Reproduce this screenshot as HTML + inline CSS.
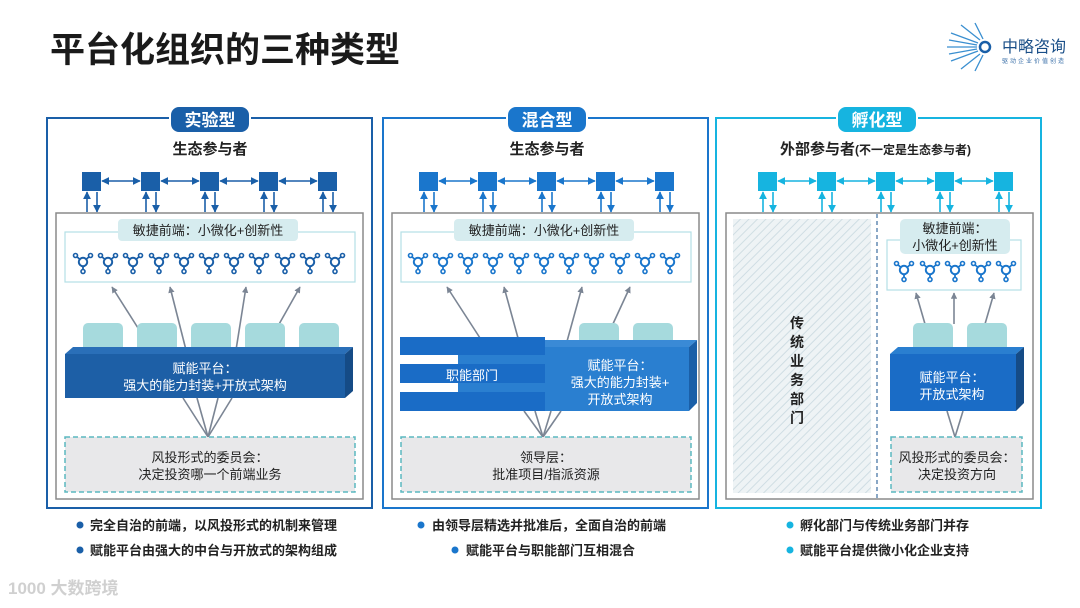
<!DOCTYPE html>
<html><head><meta charset="utf-8">
<style>
html,body{margin:0;padding:0;background:#fff;}
svg{display:block;font-family:"Liberation Sans","Noto Sans CJK SC",sans-serif;}
</style></head>
<body>
<svg width="1080" height="608" viewBox="0 0 1080 608" xmlns="http://www.w3.org/2000/svg">
<defs>
 <marker id="mb" viewBox="0 0 10 10" refX="9" refY="5" markerWidth="5" markerHeight="5" orient="auto-start-reverse"><path d="M0,0L10,5L0,10z" fill="#1a5fa8"/></marker>
 <marker id="mm" viewBox="0 0 10 10" refX="9" refY="5" markerWidth="5" markerHeight="5" orient="auto-start-reverse"><path d="M0,0L10,5L0,10z" fill="#1a76cc"/></marker>
 <marker id="mc" viewBox="0 0 10 10" refX="9" refY="5" markerWidth="5" markerHeight="5" orient="auto-start-reverse"><path d="M0,0L10,5L0,10z" fill="#16b4e0"/></marker>
 <marker id="mg" viewBox="0 0 10 10" refX="9" refY="5" markerWidth="4" markerHeight="4" orient="auto"><path d="M0,0L10,5L0,10z" fill="#7b8594"/></marker>
 <g id="ic">
  <path d="M0,0L-7,-6M0,0L7,-6M0,0L0,9" stroke-width="1.8" fill="none"/>
  <circle cx="0" cy="0" r="4.2" fill="#fff" stroke-width="2"/>
  <circle cx="-7.5" cy="-6.5" r="2" fill="#fff" stroke-width="1.6"/>
  <circle cx="7.5" cy="-6.5" r="2" fill="#fff" stroke-width="1.6"/>
  <circle cx="0" cy="9.5" r="2" fill="#fff" stroke-width="1.6"/>
 </g>
 <pattern id="hatch" width="6" height="6" patternUnits="userSpaceOnUse" patternTransform="rotate(45)">
  <rect width="6" height="6" fill="#eef3f5"/><line x1="0" y1="0" x2="0" y2="6" stroke="#cfdde3" stroke-width="2"/>
 </pattern>
</defs>

<!-- Title -->
<text x="50" y="62" font-size="35" font-weight="bold" fill="#1a1a1a">平台化组织的三种类型</text>
<!-- logo -->
<g transform="translate(985,47)">
 <g stroke="#3a8fd0" stroke-width="1.3">
  <line x1="-8" y1="0" x2="-38" y2="0"/><line x1="-7" y1="-4" x2="-34" y2="-14"/><line x1="-7" y1="4" x2="-34" y2="14"/>
  <line x1="-5" y1="-7" x2="-24" y2="-22"/><line x1="-5" y1="7" x2="-24" y2="22"/><line x1="-2" y1="-8" x2="-10" y2="-24"/><line x1="-2" y1="8" x2="-10" y2="24"/>
  <line x1="-8" y1="-2" x2="-36" y2="-7"/><line x1="-8" y1="2" x2="-36" y2="7"/>
 </g>
 <circle cx="0" cy="0" r="5" fill="none" stroke="#1a5fa8" stroke-width="2.5"/>
</g>
<text x="1002" y="52" font-size="16" fill="#1a4f88">中略咨询</text>
<text x="1002" y="63" font-size="6" fill="#3a6fa8" letter-spacing="2">驱动企业价值创造</text>

<!-- bottom-left watermark logo -->
<text x="8" y="594" font-size="17" fill="#d0d0d0" font-weight="bold">1000 大数跨境</text>

<!-- ============ PANEL 1 ============ -->
<rect x="47" y="118" width="325" height="390" fill="none" stroke="#1a5fa8" stroke-width="2"/>
<rect x="170" y="106" width="80" height="27" rx="9" fill="#1a5fa8" stroke="#fff" stroke-width="2"/>
<text x="210" y="126" font-size="17" font-weight="bold" fill="#fff" text-anchor="middle">实验型</text>
<text x="210" y="154" font-size="15" font-weight="bold" fill="#222" text-anchor="middle">生态参与者</text>
<g fill="#1a5fa8">
 <rect x="82" y="172" width="19" height="19"/><rect x="141" y="172" width="19" height="19"/><rect x="200" y="172" width="19" height="19"/><rect x="259" y="172" width="19" height="19"/><rect x="318" y="172" width="19" height="19"/>
</g>
<g stroke="#1a5fa8" stroke-width="1.6" marker-start="url(#mb)" marker-end="url(#mb)">
 <line x1="102" y1="181" x2="140" y2="181"/><line x1="161" y1="181" x2="199" y2="181"/><line x1="220" y1="181" x2="258" y2="181"/><line x1="279" y1="181" x2="317" y2="181"/>
</g>
<g stroke="#1a5fa8" stroke-width="1.6" marker-end="url(#mb)">
 <line x1="87" y1="212" x2="87" y2="192"/><line x1="97" y1="192" x2="97" y2="212"/>
 <line x1="146" y1="212" x2="146" y2="192"/><line x1="156" y1="192" x2="156" y2="212"/>
 <line x1="205" y1="212" x2="205" y2="192"/><line x1="215" y1="192" x2="215" y2="212"/>
 <line x1="264" y1="212" x2="264" y2="192"/><line x1="274" y1="192" x2="274" y2="212"/>
 <line x1="323" y1="212" x2="323" y2="192"/><line x1="333" y1="192" x2="333" y2="212"/>
</g>
<rect x="56" y="213" width="307" height="286" fill="#fff" stroke="#8a8a8a" stroke-width="1.5"/>
<rect x="65" y="232" width="290" height="50" fill="#fff" stroke="#b3e0e6" stroke-width="1.2"/>
<rect x="118" y="219" width="180" height="22" rx="4" fill="#d6ecef"/>
<text x="208" y="235" font-size="13" fill="#222" text-anchor="middle">敏捷前端：小微化+创新性</text>
<g stroke="#1a5fa8" transform="translate(0,262)">
 <use href="#ic" x="83"/><use href="#ic" x="108"/><use href="#ic" x="133"/><use href="#ic" x="159"/><use href="#ic" x="184"/><use href="#ic" x="209"/><use href="#ic" x="234"/><use href="#ic" x="259"/><use href="#ic" x="285"/><use href="#ic" x="310"/><use href="#ic" x="335"/>
</g>
<g stroke="#7b8594" stroke-width="1.6" marker-end="url(#mg)">
 <line x1="138" y1="328" x2="112" y2="287"/><line x1="186" y1="350" x2="170" y2="287"/><line x1="236" y1="350" x2="246" y2="287"/><line x1="278" y1="326" x2="300" y2="287"/>
</g>
<g fill="#a6dadd">
 <rect x="83" y="323" width="40" height="32" rx="5"/><rect x="137" y="323" width="40" height="32" rx="5"/><rect x="191" y="323" width="40" height="32" rx="5"/><rect x="245" y="323" width="40" height="32" rx="5"/><rect x="299" y="323" width="40" height="32" rx="5"/>
</g>
<polygon points="65,354 73,347 353,347 345,354" fill="#2a6fb8"/>
<polygon points="345,354 353,347 353,391 345,398" fill="#154b86"/>
<rect x="65" y="354" width="280" height="44" fill="#1d5fa6"/>
<text x="205" y="373" font-size="13" fill="#fff" text-anchor="middle">赋能平台：</text>
<text x="205" y="390" font-size="13" fill="#fff" text-anchor="middle">强大的能力封装+开放式架构</text>
<g stroke="#7b8594" stroke-width="1.6">
 <line x1="208" y1="437" x2="183" y2="398"/><line x1="208" y1="437" x2="197" y2="398"/><line x1="208" y1="437" x2="218" y2="398"/><line x1="208" y1="437" x2="232" y2="398"/>
</g>
<rect x="65" y="437" width="290" height="55" fill="#e8e8ea" stroke="#5bb8c0" stroke-width="1.5" stroke-dasharray="5,3"/>
<text x="210" y="462" font-size="13" fill="#222" text-anchor="middle">风投形式的委员会：</text>
<text x="210" y="479" font-size="13" fill="#222" text-anchor="middle">决定投资哪一个前端业务</text>
<circle cx="80" cy="525" r="3.5" fill="#1a5fa8"/>
<text x="90" y="530" font-size="13" font-weight="bold" fill="#222">完全自治的前端，以风投形式的机制来管理</text>
<circle cx="80" cy="550" r="3.5" fill="#1a5fa8"/>
<text x="90" y="555" font-size="13" font-weight="bold" fill="#222">赋能平台由强大的中台与开放式的架构组成</text>

<!-- ============ PANEL 2 ============ -->
<rect x="383" y="118" width="325" height="390" fill="none" stroke="#1a76cc" stroke-width="2"/>
<rect x="507" y="106" width="80" height="27" rx="9" fill="#1a76cc" stroke="#fff" stroke-width="2"/>
<text x="547" y="126" font-size="17" font-weight="bold" fill="#fff" text-anchor="middle">混合型</text>
<text x="547" y="154" font-size="15" font-weight="bold" fill="#222" text-anchor="middle">生态参与者</text>
<g fill="#1a76cc">
 <rect x="419" y="172" width="19" height="19"/><rect x="478" y="172" width="19" height="19"/><rect x="537" y="172" width="19" height="19"/><rect x="596" y="172" width="19" height="19"/><rect x="655" y="172" width="19" height="19"/>
</g>
<g stroke="#1a76cc" stroke-width="1.6" marker-start="url(#mm)" marker-end="url(#mm)">
 <line x1="439" y1="181" x2="477" y2="181"/><line x1="498" y1="181" x2="536" y2="181"/><line x1="557" y1="181" x2="595" y2="181"/><line x1="616" y1="181" x2="654" y2="181"/>
</g>
<g stroke="#1a76cc" stroke-width="1.6" marker-end="url(#mm)">
 <line x1="424" y1="212" x2="424" y2="192"/><line x1="434" y1="192" x2="434" y2="212"/>
 <line x1="483" y1="212" x2="483" y2="192"/><line x1="493" y1="192" x2="493" y2="212"/>
 <line x1="542" y1="212" x2="542" y2="192"/><line x1="552" y1="192" x2="552" y2="212"/>
 <line x1="601" y1="212" x2="601" y2="192"/><line x1="611" y1="192" x2="611" y2="212"/>
 <line x1="660" y1="212" x2="660" y2="192"/><line x1="670" y1="192" x2="670" y2="212"/>
</g>
<rect x="392" y="213" width="307" height="286" fill="#fff" stroke="#8a8a8a" stroke-width="1.5"/>
<rect x="401" y="232" width="290" height="50" fill="#fff" stroke="#b3e0e6" stroke-width="1.2"/>
<rect x="454" y="219" width="180" height="22" rx="4" fill="#d6ecef"/>
<text x="544" y="235" font-size="13" fill="#222" text-anchor="middle">敏捷前端：小微化+创新性</text>
<g stroke="#1a76cc" transform="translate(0,262)">
 <use href="#ic" x="418"/><use href="#ic" x="443"/><use href="#ic" x="468"/><use href="#ic" x="493"/><use href="#ic" x="519"/><use href="#ic" x="544"/><use href="#ic" x="569"/><use href="#ic" x="594"/><use href="#ic" x="620"/><use href="#ic" x="645"/><use href="#ic" x="670"/>
</g>
<g stroke="#7b8594" stroke-width="1.6" marker-end="url(#mg)">
 <line x1="480" y1="338" x2="447" y2="287"/><line x1="518" y1="338" x2="504" y2="287"/><line x1="566" y1="345" x2="582" y2="287"/><line x1="612" y1="326" x2="630" y2="287"/>
</g>
<g fill="#a6dadd">
 <rect x="579" y="323" width="40" height="32" rx="5"/><rect x="633" y="323" width="40" height="32" rx="5"/>
</g>
<polygon points="458,347 466,340 697,340 689,347" fill="#3a8ad6"/>
<polygon points="689,347 697,340 697,403 689,411" fill="#1a5fa8"/>
<rect x="458" y="347" width="231" height="64" fill="#2a7fd0"/>
<g fill="#1a6cc6">
 <rect x="400" y="337" width="145" height="18"/><rect x="400" y="364" width="145" height="19"/><rect x="400" y="392" width="145" height="19"/>
</g>
<text x="472" y="380" font-size="13" fill="#fff" text-anchor="middle">职能部门</text>
<text x="620" y="370" font-size="13" fill="#fff" text-anchor="middle">赋能平台：</text>
<text x="620" y="387" font-size="13" fill="#fff" text-anchor="middle">强大的能力封装+</text>
<text x="620" y="404" font-size="13" fill="#fff" text-anchor="middle">开放式架构</text>
<g stroke="#7b8594" stroke-width="1.6">
 <line x1="543" y1="437" x2="524" y2="411"/><line x1="543" y1="437" x2="535" y2="411"/><line x1="543" y1="437" x2="551" y2="411"/><line x1="543" y1="437" x2="561" y2="411"/>
</g>
<rect x="401" y="437" width="290" height="55" fill="#e8e8ea" stroke="#5bb8c0" stroke-width="1.5" stroke-dasharray="5,3"/>
<text x="546" y="462" font-size="13" fill="#222" text-anchor="middle">领导层：</text>
<text x="546" y="479" font-size="13" fill="#222" text-anchor="middle">批准项目/指派资源</text>
<circle cx="421" cy="525" r="3.5" fill="#1a76cc"/>
<text x="432" y="530" font-size="13" font-weight="bold" fill="#222">由领导层精选并批准后，全面自治的前端</text>
<circle cx="455" cy="550" r="3.5" fill="#1a76cc"/>
<text x="466" y="555" font-size="13" font-weight="bold" fill="#222">赋能平台与职能部门互相混合</text>

<!-- ============ PANEL 3 ============ -->
<rect x="716" y="118" width="325" height="390" fill="none" stroke="#16b4e0" stroke-width="2"/>
<rect x="837" y="106" width="80" height="27" rx="9" fill="#16b4e0" stroke="#fff" stroke-width="2"/>
<text x="877" y="126" font-size="17" font-weight="bold" fill="#fff" text-anchor="middle">孵化型</text>
<text x="780" y="154" font-size="15" font-weight="bold" fill="#222">外部参与者<tspan font-size="12">(不一定是生态参与者)</tspan></text>
<g fill="#16b4e0">
 <rect x="758" y="172" width="19" height="19"/><rect x="817" y="172" width="19" height="19"/><rect x="876" y="172" width="19" height="19"/><rect x="935" y="172" width="19" height="19"/><rect x="994" y="172" width="19" height="19"/>
</g>
<g stroke="#16b4e0" stroke-width="1.6" marker-start="url(#mc)" marker-end="url(#mc)">
 <line x1="778" y1="181" x2="816" y2="181"/><line x1="837" y1="181" x2="875" y2="181"/><line x1="896" y1="181" x2="934" y2="181"/><line x1="955" y1="181" x2="993" y2="181"/>
</g>
<g stroke="#16b4e0" stroke-width="1.6" marker-end="url(#mc)">
 <line x1="763" y1="212" x2="763" y2="192"/><line x1="773" y1="192" x2="773" y2="212"/>
 <line x1="822" y1="212" x2="822" y2="192"/><line x1="832" y1="192" x2="832" y2="212"/>
 <line x1="881" y1="212" x2="881" y2="192"/><line x1="891" y1="192" x2="891" y2="212"/>
 <line x1="940" y1="212" x2="940" y2="192"/><line x1="950" y1="192" x2="950" y2="212"/>
 <line x1="999" y1="212" x2="999" y2="192"/><line x1="1009" y1="192" x2="1009" y2="212"/>
</g>
<rect x="726" y="213" width="307" height="286" fill="#fff" stroke="#8a8a8a" stroke-width="1.5"/>
<rect x="733" y="219" width="138" height="274" fill="url(#hatch)"/>
<line x1="877" y1="214" x2="877" y2="498" stroke="#4a78a8" stroke-width="1.3" stroke-dasharray="4,3"/>
<g font-size="14" font-weight="bold" fill="#222" text-anchor="middle">
 <text x="797" y="328">传</text><text x="797" y="347">统</text><text x="797" y="366">业</text><text x="797" y="385">务</text><text x="797" y="404">部</text><text x="797" y="423">门</text>
</g>
<rect x="887" y="240" width="134" height="50" fill="#fff" stroke="#b3e0e6" stroke-width="1.2"/>
<rect x="900" y="219" width="110" height="35" rx="5" fill="#d6ecef"/>
<text x="955" y="233" font-size="13" fill="#222" text-anchor="middle">敏捷前端：</text>
<text x="955" y="250" font-size="13" fill="#222" text-anchor="middle">小微化+创新性</text>
<g stroke="#1a76cc" transform="translate(0,270)">
 <use href="#ic" x="904"/><use href="#ic" x="930"/><use href="#ic" x="955"/><use href="#ic" x="981"/><use href="#ic" x="1006"/>
</g>
<g stroke="#7b8594" stroke-width="1.6" marker-end="url(#mg)">
 <line x1="925" y1="324" x2="916" y2="293"/><line x1="954" y1="324" x2="954" y2="293"/><line x1="985" y1="324" x2="994" y2="293"/>
</g>
<g fill="#a6dadd">
 <rect x="913" y="323" width="40" height="32" rx="5"/><rect x="967" y="323" width="40" height="32" rx="5"/>
</g>
<polygon points="890,354 898,347 1024,347 1016,354" fill="#2a7fd0"/>
<polygon points="1016,354 1024,347 1024,403 1016,411" fill="#154b86"/>
<rect x="890" y="354" width="126" height="57" fill="#1a6cc6"/>
<text x="952" y="382" font-size="13" fill="#fff" text-anchor="middle">赋能平台：</text>
<text x="952" y="399" font-size="13" fill="#fff" text-anchor="middle">开放式架构</text>
<g stroke="#7b8594" stroke-width="1.6">
 <line x1="955" y1="437" x2="947" y2="411"/><line x1="955" y1="437" x2="963" y2="411"/>
</g>
<rect x="891" y="437" width="131" height="55" fill="#e8e8ea" stroke="#5bb8c0" stroke-width="1.5" stroke-dasharray="5,3"/>
<text x="957" y="462" font-size="13" fill="#222" text-anchor="middle">风投形式的委员会：</text>
<text x="957" y="479" font-size="13" fill="#222" text-anchor="middle">决定投资方向</text>
<circle cx="790" cy="525" r="3.5" fill="#16b4e0"/>
<text x="800" y="530" font-size="13" font-weight="bold" fill="#222">孵化部门与传统业务部门并存</text>
<circle cx="790" cy="550" r="3.5" fill="#16b4e0"/>
<text x="800" y="555" font-size="13" font-weight="bold" fill="#222">赋能平台提供微小化企业支持</text>
</svg>
</body></html>
